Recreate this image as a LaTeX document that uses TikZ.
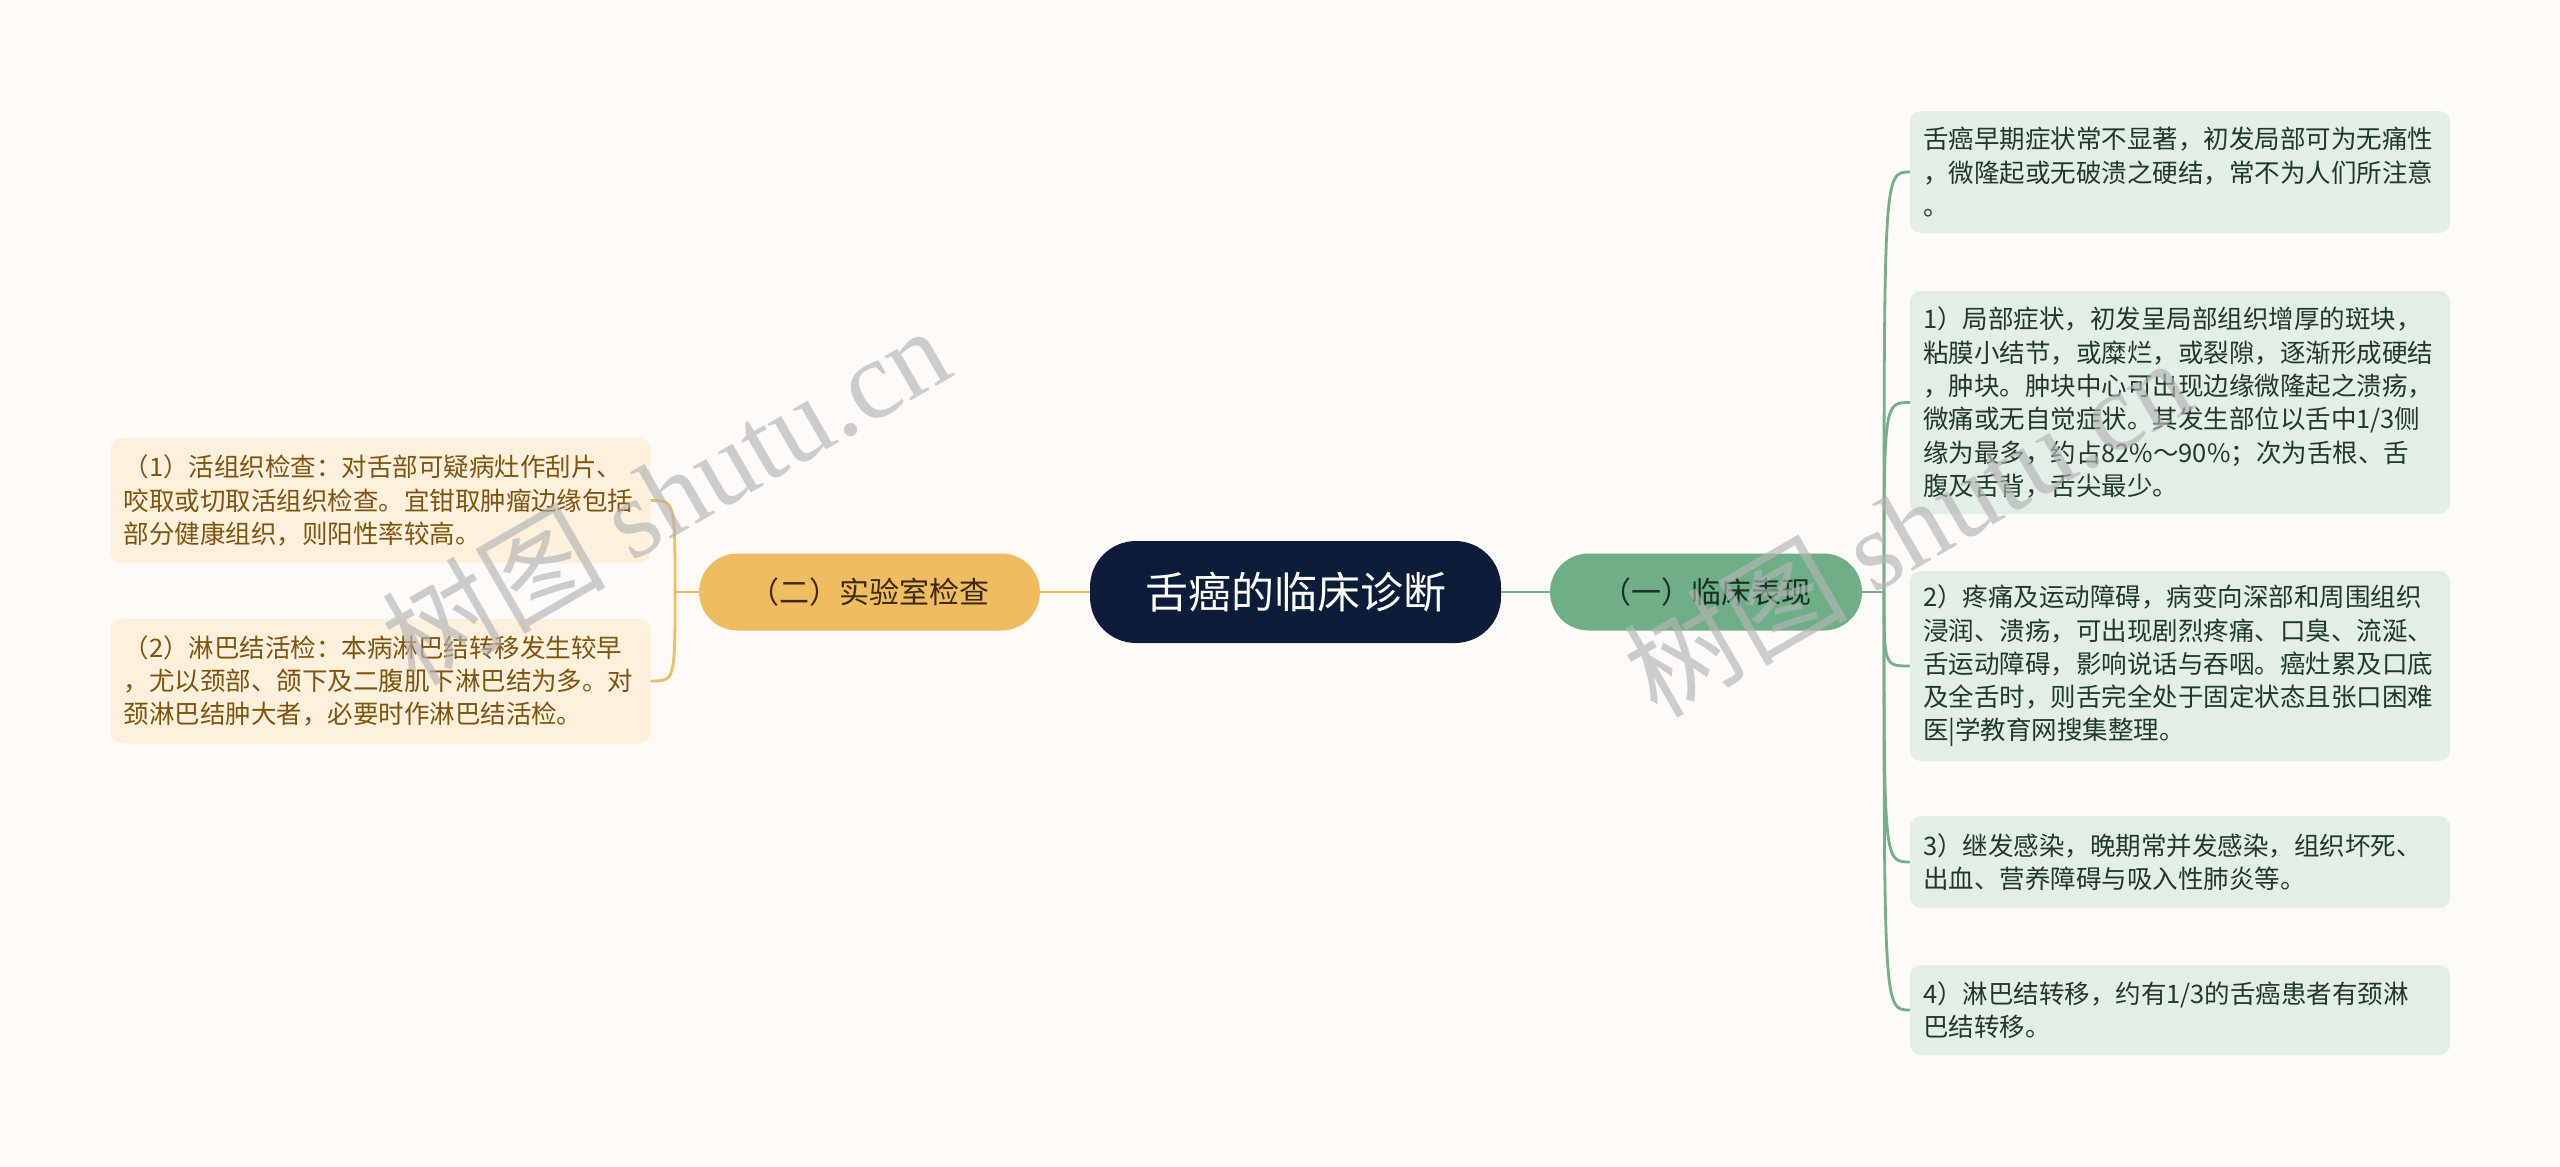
\documentclass[tikz,border=0pt]{standalone}
\usepackage{fontspec}
\setmainfont{Noto Sans CJK SC}
\newfontfamily\wmserif{Liberation Serif}
\definecolor{bg}{HTML}{FDFAF8}
\definecolor{navy}{HTML}{0D1C38}
\definecolor{gnode}{HTML}{6FAF87}
\definecolor{gline}{HTML}{74AF8A}
\definecolor{onode}{HTML}{F0BC62}
\definecolor{oline}{HTML}{F0BC62}
\definecolor{gleaf}{HTML}{E3EFE6}
\definecolor{oleaf}{HTML}{FDF1DE}
\definecolor{gdark}{HTML}{203A29}
\definecolor{obrown}{HTML}{7E540E}
\definecolor{gtext}{HTML}{1F2E25}
\definecolor{otext}{HTML}{3A2A10}
\definecolor{wm}{HTML}{B4B4B4}
\begin{document}
\begin{tikzpicture}[x=1pt,y=-1pt,
  rootbox/.style={fill=navy, rounded corners=46pt, minimum width=411pt, minimum height=102pt,
    text=white, font=\fontsize{43}{50}\selectfont, inner sep=0pt},
  topicg/.style={fill=gnode, rounded corners=38.5pt, minimum width=312pt, minimum height=77pt,
    text=gtext, font=\fontsize{30}{36}\selectfont, inner sep=0pt},
  topico/.style={fill=onode, rounded corners=38.5pt, minimum width=341pt, minimum height=77pt,
    text=otext, font=\fontsize{30}{36}\selectfont, inner sep=0pt},
  leafg/.style={fill=gleaf, rounded corners=11pt, text width=514pt, inner xsep=13pt, inner ysep=0pt,
    align=left, text=gdark, font=\fontsize{25.5}{33.3}\selectfont},
  leafo/.style={fill=oleaf, rounded corners=11pt, text width=514pt, inner xsep=13pt, inner ysep=0pt,
    align=left, text=obrown, font=\fontsize{25.5}{33.3}\selectfont},
  glink/.style={draw=gline, line width=2.8pt},
  olink/.style={draw=oline, line width=2.8pt},
  wmark/.style={text=wm, opacity=0.65, rotate=30, font=\fontsize{112}{120}\selectfont, inner sep=0pt}
]
\useasboundingbox[fill=bg] (0,0) rectangle (2560,1167);

% main nodes
\node[rootbox] (root) at (1295.5,592) {舌癌的临床诊断};
\node[topicg] (rn) at (1706,592) {（一）临床表现};
\node[topico] (ln) at (869.5,592) {（二）实验室检查};

% right leaves
\node[leafg, minimum height=122pt] (b1) at (2180,172) {舌癌早期症状常不显著，初发局部可为无痛性\\，微隆起或无破溃之硬结，常不为人们所注意\\。};
\node[leafg, minimum height=223pt] (b2) at (2180,402.5) {1）局部症状，初发呈局部组织增厚的斑块，\\粘膜小结节，或糜烂，或裂隙，逐渐形成硬结\\，肿块。肿块中心可出现边缘微隆起之溃疡，\\微痛或无自觉症状。其发生部位以舌中1/3侧\\缘为最多，约占82\%～90\%；次为舌根、舌\\腹及舌背，舌尖最少。};
\node[leafg, minimum height=190pt] (b3) at (2180,666) {2）疼痛及运动障碍，病变向深部和周围组织\\浸润、溃疡，可出现剧烈疼痛、口臭、流涎、\\舌运动障碍，影响说话与吞咽。癌灶累及口底\\及全舌时，则舌完全处于固定状态且张口困难\\医|学教育网搜集整理。};
\node[leafg, minimum height=92pt] (b4) at (2180,862) {3）继发感染，晚期常并发感染，组织坏死、\\出血、营养障碍与吸入性肺炎等。};
\node[leafg, minimum height=90pt] (b5) at (2180,1010) {4）淋巴结转移，约有1/3的舌癌患者有颈淋\\巴结转移。};

% left leaves
\node[leafo, minimum height=125pt] (l1) at (380.5,500.5) {（1）活组织检查：对舌部可疑病灶作刮片、\\咬取或切取活组织检查。宜钳取肿瘤边缘包括\\部分健康组织，则阳性率较高。};
\node[leafo, minimum height=124pt] (l2) at (380.5,681) {（2）淋巴结活检：本病淋巴结转移发生较早\\，尤以颈部、颌下及二腹肌下淋巴结为多。对\\颈淋巴结肿大者，必要时作淋巴结活检。};

% connectors
\draw[glink] (root.east) -- (rn.west);
\draw[olink] (root.west) -- (ln.east);
\coordinate (rj) at (1884,592);
\coordinate (lj) at (675,592);
\draw[glink] (rn.east) -- (rj);
\draw[olink] (ln.west) -- (lj);
\foreach \b in {b1,b2,b3,b4,b5}{
  \draw[glink] (rj) .. controls (rj |- \b.west) and (rj |- \b.west) .. (\b.west);
}
\foreach \b in {l1,l2}{
  \draw[olink] (lj) .. controls (lj |- \b.east) and (lj |- \b.east) .. (\b.east);
}

% watermarks
\node[wmark] (wm1) at (665,494) {树图 {\wmserif shutu.cn}};
\node[wmark] (wm2) at (1907,526) {树图 {\wmserif shutu.cn}};
\end{tikzpicture}
\end{document}
